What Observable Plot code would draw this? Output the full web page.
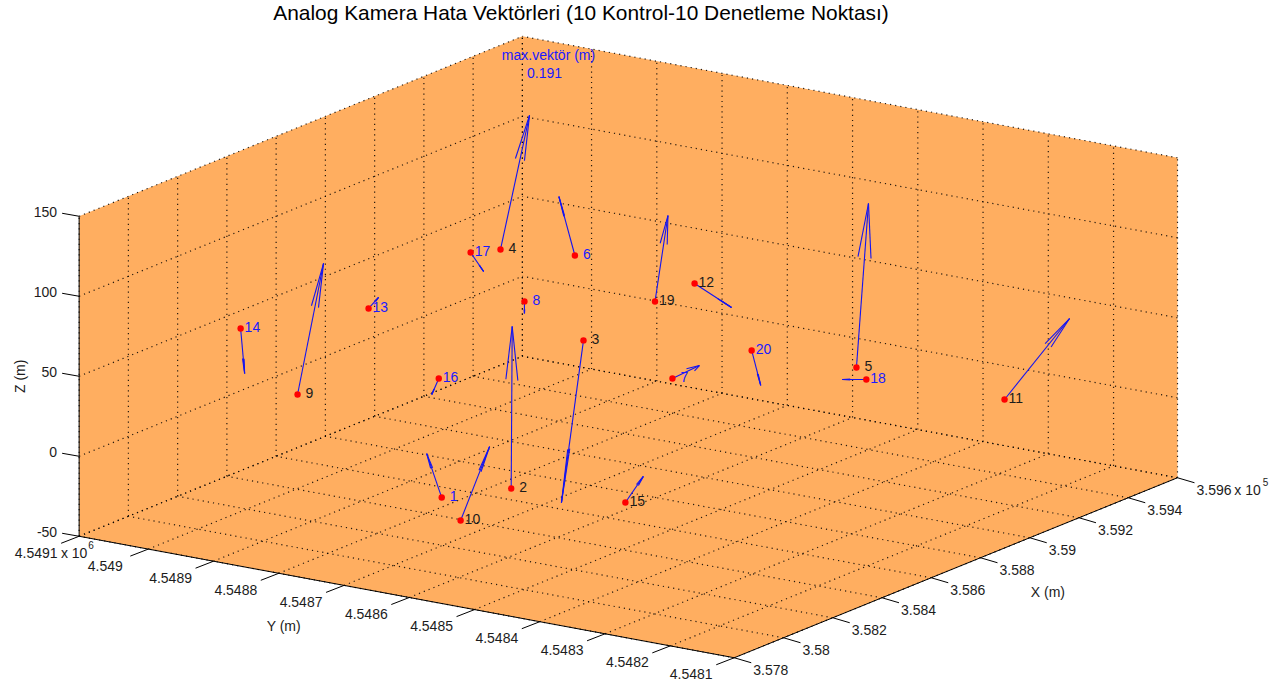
<!DOCTYPE html>
<html>
<head>
<meta charset="utf-8">
<style>html,body{margin:0;padding:0;background:#fff}svg{display:block}</style>
<script src="https://cdn.jsdelivr.net/npm/d3@7"></script>
<script src="https://cdn.jsdelivr.net/npm/@observablehq/plot@0.6"></script>
</head>
<body>
<div id="chart"></div>
<script>
// ---- data (metres) ----
const ids = [1,2,3,4,5,6,7,8,9,10,11,12,13,14,15,16,17,18,19,20];
const controlIds = [2,3,4,5,9,10,11,12,15,19];
const pointX = [358088,358129,358139,358438,359070,358711,358540,358771,357953,358064,359258,358561,358085,357894,358508,358023,358269,359110,358607,358504];
const pointY = [4548659,4548568,4548461,4548701,4548394,4548690,4548476,4548790,4548829,4548621,4548238,4548450,4548770,4548894,4548536,4548639,4548683,4548394,4548528,4548341];
const pointZ = [-10,0,100,120,30,100,50,60,50,-20,10,110,100,90,-30,70,130,20,90,80];
const vecU = [4.7,74.3,1.2,70.1,86.2,-4.3,62.9,3.8,56.3,27,69.8,37.2,11.3,11.8,21.4,-1.1,10.4,-12.2,49.7,10.8];
const vecV = [24.8,26.5,34.2,-18,14.1,22.9,-17.6,1.4,-18.6,-34.2,-73.3,-42.6,-11.1,-1.7,-19.4,10.3,-16,32.2,-1.1,-9.8];
const vecW = [25.3,94.6,-104,80.8,96,35.4,5.5,-7.8,79.8,47.1,51.8,-14.1,7,-28.7,16.4,-10.7,-11.3,-1.7,50.7,-21.8];

const xTicks = [357800,358000,358200,358400,358600,358800,359000,359200,359400,359600];
const xTickLabels = ["3.578","3.58","3.582","3.584","3.586","3.588","3.59","3.592","3.594","3.596"];
const yTicks = [4548102,4548200,4548300,4548400,4548500,4548600,4548700,4548800,4548900,4549000,4549106];
const yTickLabels = ["4.5481","4.5482","4.5483","4.5484","4.5485","4.5486","4.5487","4.5488","4.5489","4.549","4.5491"];
const zTicks = [-50,0,50,100,150];
const titleText = "Analog Kamera Hata Vektörleri (10 Kontrol-10 Denetleme Noktası)";

// ---- 3D view: orthographic projection of metres onto the page ----
const X0 = 357800, Y0 = 4548100;
const Xmin = xTicks[0], Xmax = xTicks[xTicks.length-1];
const Ymin = yTicks[0], Ymax = yTicks[yTicks.length-1];
const Zmin = zTicks[0], Zmax = zTicks[zTicks.length-1];
const px = (X,Y) => 735.05 + 0.24625*(X-X0) - 0.6525*(Y-Y0);
const py = (X,Y,Z) => 657.5 - 0.1*(X-X0) - 0.121*(Y-Y0) - 1.6*(Z+50);
const P = ([X,Y,Z]) => [px(X,Y), py(X,Y,Z)];
const seg = (a,b) => { const [x1,y1]=P(a),[x2,y2]=P(b); return {x1,y1,x2,y2}; };

// quiver3 style arrows
const alpha = 0.33, beta = 0.33;
const table = ids.map((id,i)=>({id, X:pointX[i], Y:pointY[i], Z:pointZ[i], U:vecU[i], V:vecV[i], W:vecW[i], control:controlIds.includes(id)}));
const arrowSegs = table.flatMap(d=>{
  const tip=[d.X+d.U,d.Y+d.V,d.Z+d.W];
  const b1=[tip[0]-alpha*(d.U+beta*d.V), tip[1]-alpha*(d.V-beta*d.U), tip[2]-alpha*d.W];
  const b2=[tip[0]-alpha*(d.U-beta*d.V), tip[1]-alpha*(d.V+beta*d.U), tip[2]-alpha*d.W];
  return [seg([d.X,d.Y,d.Z],tip), seg(b1,tip), seg(b2,tip)];
});

// box
const outline = [[Xmin,Ymin,Zmin],[Xmax,Ymin,Zmin],[Xmax,Ymin,Zmax],[Xmax,Ymax,Zmax],[Xmin,Ymax,Zmax],[Xmin,Ymax,Zmin]].map(P);

// grid
const grid = [
  ...xTicks.map(x=>seg([x,Ymin,Zmin],[x,Ymax,Zmin])),
  ...yTicks.map(y=>seg([Xmin,y,Zmin],[Xmax,y,Zmin])),
  ...xTicks.map(x=>seg([x,Ymax,Zmin],[x,Ymax,Zmax])),
  ...zTicks.map(z=>seg([Xmin,Ymax,z],[Xmax,Ymax,z])),
  ...yTicks.map(y=>seg([Xmax,y,Zmin],[Xmax,y,Zmax])),
  ...zTicks.map(z=>seg([Xmax,Ymin,z],[Xmax,Ymax,z]))
];
const axesLines = [
  seg([Xmin,Ymax,Zmin],[Xmin,Ymax,Zmax]),
  seg([Xmin,Ymin,Zmin],[Xmin,Ymax,Zmin]),
  seg([Xmin,Ymin,Zmin],[Xmax,Ymin,Zmin])
];

const xT = xTicks.map((t,i)=>{const [x,y]=P([t,Ymin,Zmin]);return {x,y,label:xTickLabels[i]};});
const yT = yTicks.map((t,i)=>{const [x,y]=P([Xmin,t,Zmin]);return {x,y,label:yTickLabels[i]};});
const zT = zTicks.map(t=>{const [x,y]=P([Xmin,Ymax,t]);return {x,y,label:String(t)};});
const pts = table.map(d=>{const [x,y]=P([d.X,d.Y,d.Z]);return {...d,x,y};});

const font = "'Liberation Sans', Arial, sans-serif";
const ink = "#1c1c1c";
const blue = "#1a1aff";
const tickMarks = (arr,dx,dy)=>Plot.link(arr,{x1:"x",y1:"y",x2:d=>d.x+dx,y2:d=>d.y+dy,stroke:"#000",strokeWidth:1});
const lastX = xT[xT.length-1], lastY = yT[yT.length-1];
const zMid = P([Xmin,Ymax,50]);
const yMid = P([Xmin,4548650,Zmin]);
const xMid = P([358700,Ymin,Zmin]);

const chart = Plot.plot({
  width:1285, height:688, margin:0,
  style:{background:"#fff", fontFamily:font},
  x:{type:"linear",domain:[0,1285],range:[0,1285],axis:null},
  y:{type:"linear",domain:[0,688],range:[0,688],axis:null},
  marks:[
    Plot.line(outline,{x:d=>d[0],y:d=>d[1],fill:"#ffae60",stroke:"none"}),
    Plot.link(grid,{x1:"x1",y1:"y1",x2:"x2",y2:"y2",stroke:"#000",strokeOpacity:0.85,strokeWidth:1.2,strokeDasharray:"1.2 4"}),
    Plot.link(axesLines,{x1:"x1",y1:"y1",x2:"x2",y2:"y2",stroke:"#000",strokeWidth:1}),
    tickMarks(xT,17,5), tickMarks(yT,-18,7), tickMarks(zT,-17,-3),
    Plot.text(xT,{x:"x",y:"y",text:"label",dx:19,dy:13,textAnchor:"start",fontSize:14,fill:ink}),
    Plot.text(yT,{x:"x",y:"y",text:"label",dx:-43,dy:17,textAnchor:"middle",fontSize:14,fill:ink}),
    Plot.text(zT,{x:"x",y:"y",text:"label",dx:-22,dy:-4,textAnchor:"end",fontSize:14,fill:ink}),
    Plot.text([lastX],{x:"x",y:"y",text:()=>"x 10",dx:70,dy:13,textAnchor:"middle",fontSize:14,fill:ink}),
    Plot.text([lastX],{x:"x",y:"y",text:()=>"5",dx:88,dy:5,textAnchor:"middle",fontSize:10,fill:ink}),
    Plot.text([lastY],{x:"x",y:"y",text:()=>"x 10",dx:-5,dy:17,textAnchor:"middle",fontSize:14,fill:ink}),
    Plot.text([lastY],{x:"x",y:"y",text:()=>"6",dx:12,dy:10,textAnchor:"middle",fontSize:10,fill:ink}),
    Plot.text([{x:xMid[0],y:xMid[1]}],{x:"x",y:"y",text:()=>"X (m)",dx:92,dy:25,fontSize:14,fill:ink}),
    Plot.text([{x:yMid[0],y:yMid[1]}],{x:"x",y:"y",text:()=>"Y (m)",dx:-93,dy:35,fontSize:14,fill:ink}),
    Plot.text([{x:zMid[0],y:zMid[1]}],{x:"x",y:"y",text:()=>"Z (m)",dx:-59,rotate:-90,fontSize:14,fill:ink}),
    Plot.link(arrowSegs,{x1:"x1",y1:"y1",x2:"x2",y2:"y2",stroke:"#1414f0",strokeWidth:1.1}),
    Plot.dot(pts,{x:"x",y:"y",r:3.2,fill:"#ff0000",stroke:"none"}),
    Plot.text(pts.filter(d=>d.id<10),{x:"x",y:"y",text:d=>String(d.id),dx:8,dy:-1,textAnchor:"start",fontSize:14,fill:d=>d.control?ink:blue}),
    Plot.text(pts.filter(d=>d.id>=10),{x:"x",y:"y",text:d=>String(d.id),dx:4,dy:-1,textAnchor:"start",fontSize:14,fill:d=>d.control?ink:blue}),
    Plot.text(["max.vektör (m)"],{x:()=>548,y:()=>55,text:d=>d,fontSize:14,fill:blue}),
    Plot.text(["0.191"],{x:()=>544,y:()=>73,text:d=>d,fontSize:14,fill:blue}),
    Plot.text([titleText],{x:()=>580.5,y:()=>13,text:d=>d,fontSize:20.9,fill:"#000"})
  ]
});
document.getElementById("chart").appendChild(chart);
</script>
</body>
</html>
